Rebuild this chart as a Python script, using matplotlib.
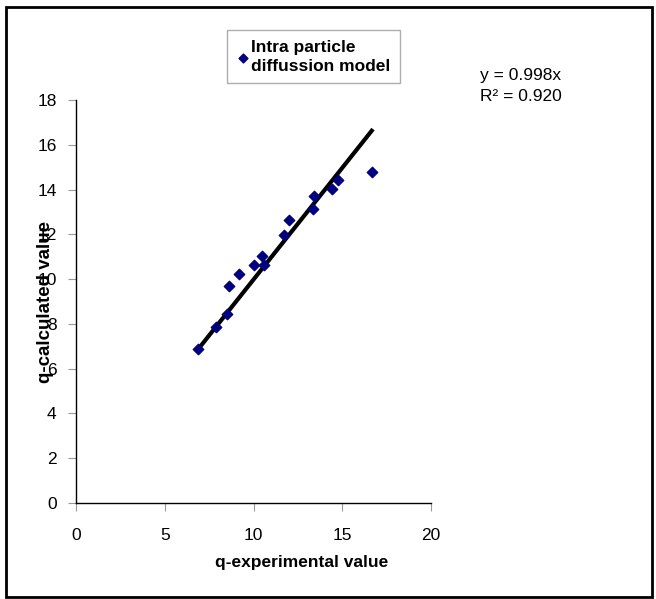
import numpy as np
import matplotlib.pyplot as plt
from matplotlib.patches import Rectangle

plt.rcParams['font.family'] = ['Liberation Sans', 'DejaVu Sans']

# q-experimental vs q-calculated (intra particle diffusion model)
q_exp = [6.89, 7.89, 8.49, 8.64, 9.18, 10.03, 10.50, 10.59, 11.72, 11.98,
         13.37, 13.41, 14.42, 14.78, 16.66]
q_calc = [6.87, 7.87, 8.45, 9.68, 10.22, 10.65, 11.05, 10.65, 11.98, 12.63,
          13.15, 13.69, 14.04, 14.43, 14.79]
slope = 0.998
r2 = 0.920
x_ticks = [0, 5, 10, 15, 20]
y_ticks = [0, 2, 4, 6, 8, 10, 12, 14, 16, 18]

W, H = 656, 599
fig = plt.figure(figsize=(W / 100, H / 100), dpi=100)
ax = fig.add_axes([76 / W, 1 - 503 / H, (431 - 76) / W, (503 - 100) / H])

ax.scatter(q_exp, q_calc, marker='D', s=28, color='#000080', zorder=3,
           label='Intra particle\ndiffussion model')
xs = np.array([min(q_exp), max(q_exp)])
ax.plot(xs, slope * xs, color='black', lw=3, zorder=2)

ax.set_xlim(0, 20)
ax.set_ylim(0, 18)
ax.set_xticks(x_ticks)
ax.set_yticks(y_ticks)
for s in ['top', 'right']:
    ax.spines[s].set_visible(False)
ax.spines['left'].set_linewidth(1)
ax.spines['bottom'].set_linewidth(1)
ax.tick_params(axis='both', direction='out', length=6, color='#999999',
               labelsize=12.5, pad=12)
ax.tick_params(axis='y', pad=8)

# axis titles sit over the tick labels, as in the original Excel chart
fig.text(46 / W, 1 - 302 / H, 'q-calculated value', rotation=90,
         ha='center', va='center', fontsize=13.5, fontweight='bold')
fig.text(302 / W, 1 - 562 / H, 'q-experimental value',
         ha='center', va='center', fontsize=12.5, fontweight='bold')

leg = fig.legend(loc='upper left', bbox_to_anchor=(227 / W, 1 - 30 / H),
                 borderaxespad=0, frameon=True, fancybox=False,
                 handlelength=0.7, handletextpad=0.15, borderpad=0.55,
                 markerscale=0.85, prop={'weight': 'bold', 'size': 12.5})
leg.get_frame().set_edgecolor('#999999')
leg.get_frame().set_linewidth(1)
for t in leg.get_texts():
    t.set_linespacing(1.35)

fig.text(480 / W, 1 - 86 / H, f'y = {slope:.3f}x\nR² = {r2:.3f}',
         ha='left', va='center', fontsize=12.5, linespacing=1.45)

fig.patches.append(Rectangle((6 / W, 2 / H), 646 / W, 590 / H,
                             transform=fig.transFigure, fill=False,
                             edgecolor='black', lw=2))

fig.savefig('out.png', dpi=100)
